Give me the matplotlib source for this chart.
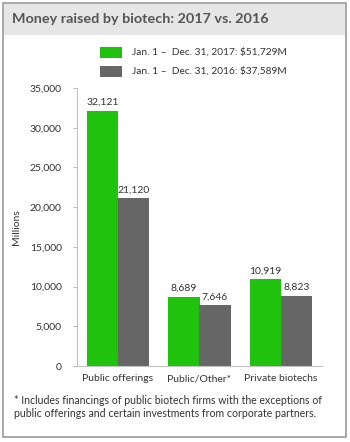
import matplotlib.pyplot as plt
from matplotlib.patches import Rectangle
import numpy as np

categories = ['Public offerings', 'Public/Other*', 'Private biotechs']
values_2017 = [32121, 8689, 10919]
values_2016 = [21120, 7646, 8823]
legend_labels = ['Jan. 1 \u2013  Dec. 31, 2017: $51,729M',
                 'Jan. 1 \u2013  Dec. 31, 2016: $37,589M']
title = 'Money raised by biotech: 2017 vs. 2016'
footnote = ('* Includes financings of public biotech firms with the exceptions of\n'
            'public offerings and certain investments from corporate partners.')

green = '#1fc20c'
gray = '#666666'
txt = '#333333'

plt.rcParams['font.family'] = ['Lato', 'DejaVu Sans']

W, H = 350, 442
fig = plt.figure(figsize=(W / 100, H / 100), dpi=100)

# frame and title band (figure pixel coords)
def px(x, y, w, h):
    return (x / W, 1 - (y + h) / H, w / W, h / H)

x0, y0, w0, h0 = px(3, 3, 343, 434)
fig.patches.append(Rectangle((x0, y0), w0, h0, transform=fig.transFigure,
                             facecolor='white', edgecolor='#9a9a9a', lw=1.2, zorder=-2))
x0, y0, w0, h0 = px(4, 4, 341, 31)
fig.patches.append(Rectangle((x0, y0), w0, h0, transform=fig.transFigure,
                             facecolor='#e6e6e6', edgecolor='none', zorder=-1))
fig.text(12 / W, 1 - 19 / H, title, fontsize=10.4, fontweight='bold',
         color='#555555', va='center', ha='left')

# legend
for i, (lab, col) in enumerate(zip(legend_labels, [green, gray])):
    yc = 52 + i * 19
    x0, y0, w0, h0 = px(100, yc - 5, 22, 11)
    fig.patches.append(Rectangle((x0, y0), w0, h0, transform=fig.transFigure,
                                 facecolor=col, edgecolor='none'))
    fig.text(132 / W, 1 - yc / H, lab, fontsize=7.3, color=txt, va='center')

ax = fig.add_axes(px(77, 88, 245, 278))
ax.patch.set_alpha(0)
x = np.arange(len(categories))
bw = 0.38
b1 = ax.bar(x - bw / 2, values_2017, bw, color=green)
b2 = ax.bar(x + bw / 2, values_2016, bw, color=gray)
for bars in (b1, b2):
    for r in bars:
        ax.text(r.get_x() + r.get_width() / 2, r.get_height() + 500,
                f'{int(r.get_height()):,}', ha='center', va='bottom',
                fontsize=7.5, color=txt)

ax.set_xlim(-0.5, 2.5)
ax.set_ylim(0, 35000)
ax.set_yticks(range(0, 35001, 5000))
ax.set_yticklabels([f'{v:,}' for v in range(0, 35001, 5000)])
ax.set_xticks(x)
ax.set_xticklabels(categories)
ax.tick_params(axis='y', labelsize=7.5, colors=txt, length=3, color='#bbbbbb', pad=8)
ax.tick_params(axis='x', labelsize=7.5, colors=txt, length=0, pad=6)
for s in ['top', 'right']:
    ax.spines[s].set_visible(False)
ax.spines['left'].set_color('#c0c0c0')
ax.spines['bottom'].set_color('#c0c0c0')
ax.set_ylabel('Millions', fontsize=7.5, color=txt, labelpad=6)

fig.text(14 / W, 1 - 407 / H, footnote, fontsize=7.6, color=txt,
         va='center', ha='left', linespacing=1.3)

fig.savefig('out.png', dpi=100)
